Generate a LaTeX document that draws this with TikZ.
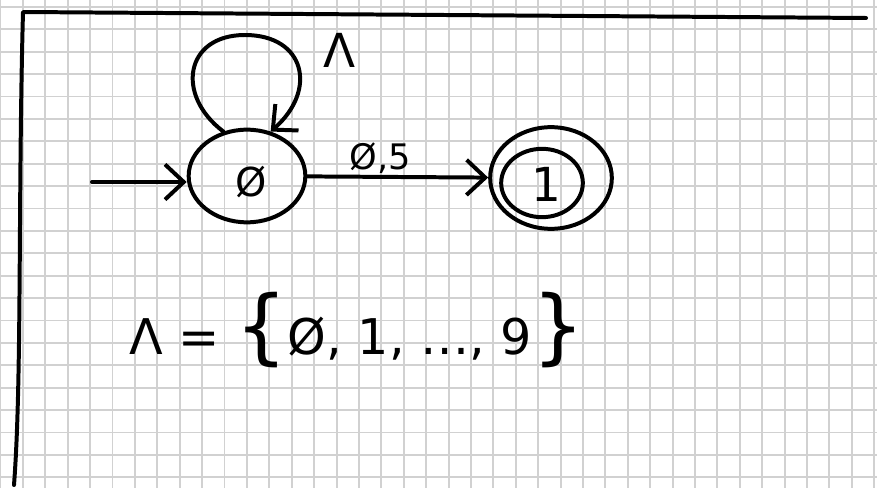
\documentclass[tikz,border=0pt]{standalone}
\usepackage{fontspec}
\setmainfont{DejaVu Sans}
\usepackage{tikz}
\usetikzlibrary{shapes.geometric,arrows.meta}

\tikzset{
  ink/.style={line width=3.4pt, line cap=round, line join=round},
  barb/.style={-{Straight Barb[length=16pt,width=30pt,line width=3.4pt]}},
  stateellipse/.style={ellipse, draw, ink, inner sep=0pt},
}

\begin{document}
\begin{tikzpicture}[x=0.03cm, y=-0.03cm]
\useasboundingbox (0,0) rectangle (877,488);
% squared paper
\foreach \gx in {0,...,39} \draw[line width=1.7pt, black!18] (0.5+22.4*\gx,0) -- (0.5+22.4*\gx,488);
\foreach \gy in {0,...,21} \draw[line width=1.7pt, black!18] (0,6.9+22.4*\gy) -- (877,6.9+22.4*\gy);

% frame
\draw[ink] (866,18) -- (23,12) .. controls (18,200) and (22,380) .. (14,485);

\node[stateellipse, minimum width=3.5cm, minimum height=2.78cm] (q0) at (247,176) {};
\node[font=\fontsize{34}{40}\selectfont] (q0label) at (251,182) {Ø};
\node[stateellipse, minimum width=2.45cm, minimum height=2.05cm] (q1) at (542,183) {};
\node[stateellipse, minimum width=3.65cm, minimum height=3.05cm] (q1outer) at (551,178) {};
\node[font=\fontsize{40}{48}\selectfont] (q1label) at (546,184) {1};

\coordinate (start) at (92,182);
\coordinate (looptop) at (245,35);

\draw[ink, barb] (start) -- (start -| q0.west);
\draw[ink, barb] (q0) -- (q1outer);
\draw[ink, barb] (q0.118) .. controls (175,95) and (185,35) .. (looptop)
  .. controls (305,35) and (318,90) .. (q0.62);

\node[font=\fontsize{40}{48}\selectfont] (looplabel) at (340,50) {Λ};
\node[font=\fontsize{30}{36}\selectfont] (edgelabel) at (380,158) {Ø,5};
\node[font=\fontsize{42}{50}\selectfont] (alphabet) at (357,330)
  {Λ = {\fontsize{70}{70}\selectfont\{}Ø, 1, …, 9{\fontsize{70}{70}\selectfont\}}};
\end{tikzpicture}
\end{document}
